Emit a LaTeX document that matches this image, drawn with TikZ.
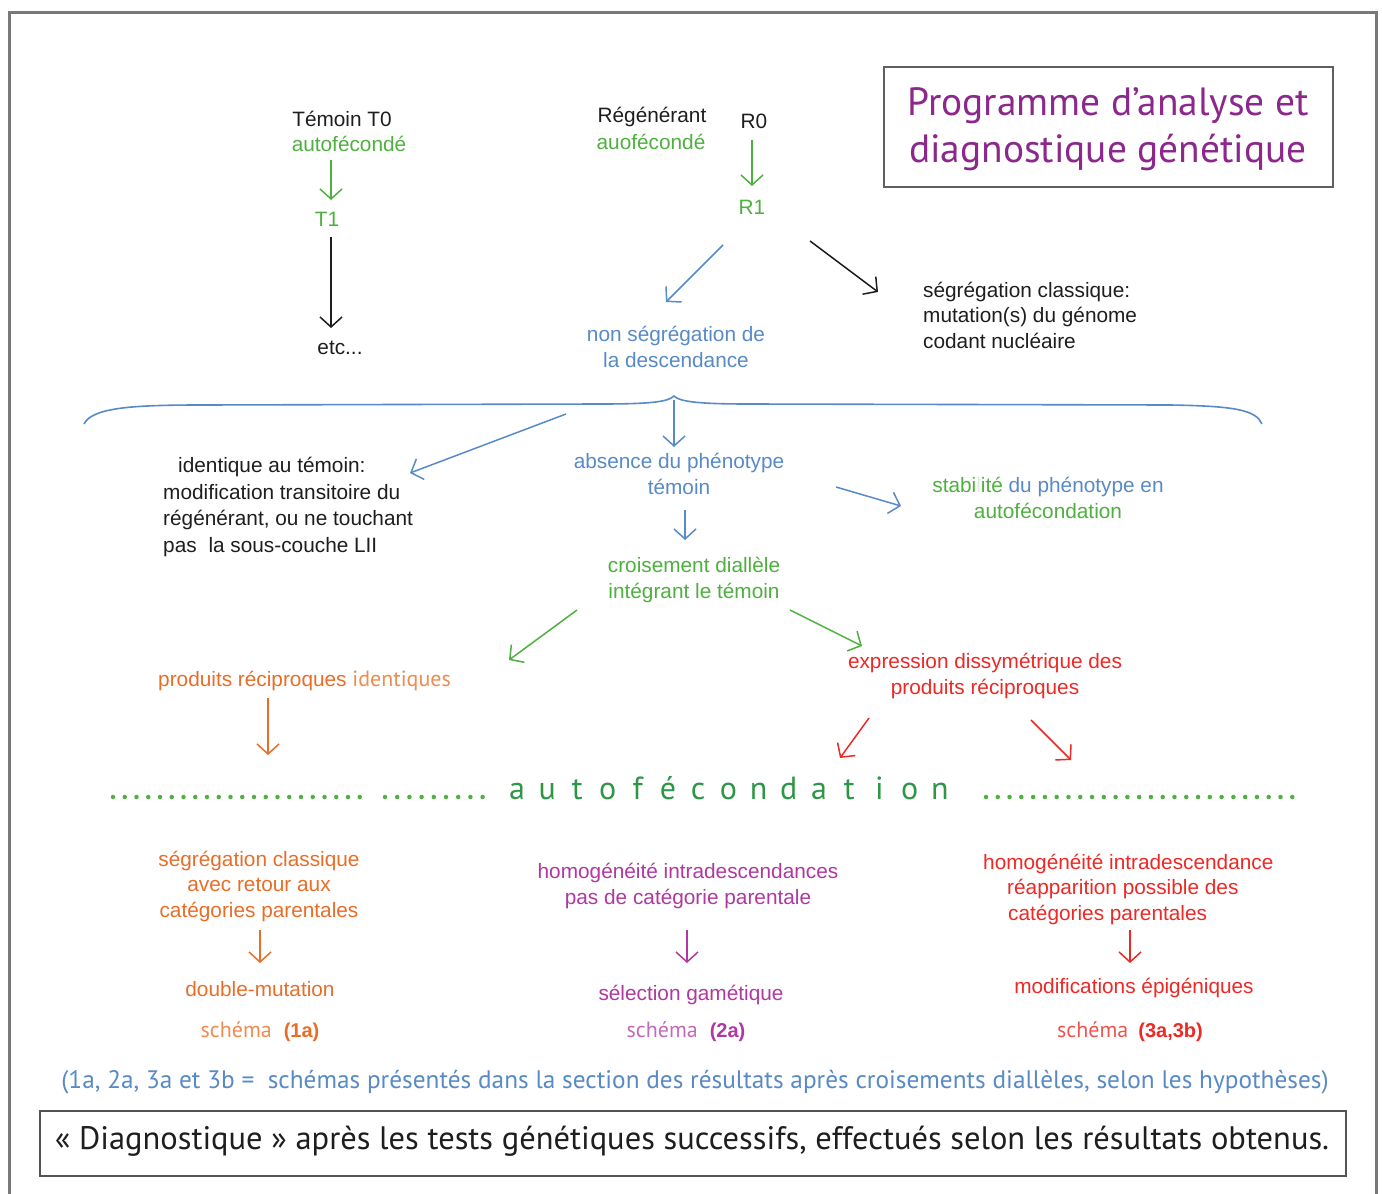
\documentclass[tikz,border=0pt]{standalone}
\usepackage{fontspec}
\setmainfont{Liberation Sans}
\newfontfamily\myr{PT Sans}
\usetikzlibrary{arrows.meta}

\definecolor{cgreen}{RGB}{78,176,62}
\definecolor{cdgreen}{RGB}{46,150,70}
\definecolor{cblue}{RGB}{88,138,200}
\definecolor{corange}{RGB}{232,110,40}
\definecolor{clorange}{RGB}{238,140,80}
\definecolor{cred}{RGB}{238,40,36}
\definecolor{cpurple}{RGB}{176,56,160}
\definecolor{ctitle}{RGB}{140,40,140}
\definecolor{cink}{RGB}{30,30,30}
\definecolor{cframe}{RGB}{120,120,120}

\tikzset{
  lbl/.style={inner sep=0pt, align=center, font=\fontsize{20.8}{25.5}\selectfont, text=cink},
  arr/.style={-{Straight Barb[length=10pt,width=22pt]}, line width=1.5pt},
  myrtxt/.style={inner sep=0pt, align=center},
}

\begin{document}
\begin{tikzpicture}[x=1pt,y=-1pt]
\useasboundingbox (0,0) rectangle (1382,1194);
\fill[white] (0,0) rectangle (1382,1194);

% outer frame, open at the bottom
\draw[cframe, line width=3pt] (9,1196) -- (9,12) -- (1376,12) -- (1376,1196);

% title box
\node[draw=cframe!80!black, line width=2pt, minimum width=449pt, minimum height=120pt,
      inner sep=0pt] (titlebox) at (1108.5,127) {};
\node[myrtxt, text=ctitle, font=\myr\fontsize{39.4}{47}\selectfont] (title) at (1108,129)
  {Programme d’analyse et\\diagnostique génétique};

% control line
\node[lbl] (t0) at (342,119) {Témoin T0};
\node[lbl, text=cgreen] (t0a) at (349,144) {autofécondé};
\node[lbl, text=cgreen] (t1) at (327,219) {T1};
\node[lbl] (etc) at (340,348) {etc...};

% regenerant line
\node[lbl] (reg) at (652,117) {Régénérant};
\node[lbl, text=cgreen] (rega) at (651,142) {auofécondé};
\node[lbl] (r0) at (754,121) {R0};
\node[lbl, text=cgreen] (r1) at (752,207) {R1};

\node[lbl, text=cblue] (nonseg) at (676,347) {non ségrégation de\\ la descendance};
\node[lbl, anchor=west, align=left] (segcl) at (923,315)
  {ségrégation classique:\\mutation(s) du génome\\codant nucléaire};

% brace
\draw[cblue, line width=1.6pt] (84,424) .. controls (92,408) and (130,405) .. (200,405)
  -- (600,404) .. controls (650,404) and (668,402) .. (674,396)
  .. controls (680,402) and (700,404) .. (750,404)
  -- (1170,405) .. controls (1235,406) and (1256,410) .. (1262,424);
\coordinate (brtip) at (674,400);

\node[lbl, align=left, anchor=west, font=\fontsize{20.8}{26.6}\selectfont] (ident) at (163,507)
  {\hspace*{15pt}identique au témoin:\\modification transitoire du\\régénérant, ou ne touchant\\pas\hspace{6pt} la sous-couche LII};
\node[lbl, text=cblue] (absence) at (679,474) {absence du phénotype\\témoin};
\node[lbl, text=cblue] (stab) at (1048,498)
  {{\color{cgreen}stabi{\color{cgreen!20}l}ité} du phénotype en\\{\color{cgreen}autofécondation}};
\node[lbl, text=cgreen] (crois) at (694,580) {croisement diallèle\\intégrant le témoin};

\node[lbl, text=corange, anchor=west] (prodid) at (158,681)
  {produits réciproques\ {\myr\fontsize{22}{25}\selectfont\color{clorange}identiques}};
\node[lbl, text=cred] (expr) at (985,676) {expression dissymétrique des\\produits réciproques};

% autofecondation line
\draw[cgreen, line width=4.5pt, line cap=round, dash pattern=on 0pt off 11.75pt] (113,797) -- (370,797);
\draw[cgreen, line width=4.5pt, line cap=round, dash pattern=on 0pt off 12.2pt] (385,797) -- (484,797);
\draw[cgreen, line width=4.5pt, line cap=round, dash pattern=on 0pt off 11.78pt] (986,797) -- (1304,797);
\foreach \ch [count=\i from 0] in {a,u,t,o,f,é,c,o,n,d,a,t,i,o,n}
  \node[inner sep=0pt, anchor=base, text=cdgreen, font=\myr\fontsize{32}{32}\selectfont]
    (af\i) at (517+30.2*\i,799) {\ch};

% three outcomes
\node[lbl, text=corange] (seg2) at (259,886)
  {ségrégation classique\\avec retour aux\\catégories parentales};
\node[lbl, text=corange] (dm) at (260,989) {double-mutation};
\node[inner sep=0pt, text=corange] (sch1) at (260,1032)
  {{\myr\fontsize{22}{26}\selectfont\color{clorange}schéma}\hspace{12pt}{\fontsize{20}{24}\selectfont\bfseries (1a)}};

\node[lbl, text=cpurple] (homo2) at (688,886)
  {homogénéité intradescendances\\pas de catégorie parentale};
\node[lbl, text=cpurple] (sel) at (691,995) {sélection gamétique};
\node[inner sep=0pt, text=cpurple] (sch2) at (686,1032)
  {{\myr\fontsize{22}{26}\selectfont\color{cpurple!75}schéma}\hspace{12pt}{\fontsize{20}{24}\selectfont\bfseries (2a)}};

\node[lbl, text=cred, align=left, anchor=west] (homo3) at (983,889)
  {homogénéité intradescendance\\\hspace*{24pt}réapparition possible des\\\hspace*{25pt}catégories parentales};
\node[lbl, text=cred] (modif) at (1134,988) {modifications épigéniques};
\node[inner sep=0pt, text=cred] (sch3) at (1130,1032)
  {{\myr\fontsize{22}{26}\selectfont\color{cred!80}schéma}\hspace{10pt}{\fontsize{20}{24}\selectfont\bfseries (3a,3b)}};

% footnote and conclusion box
\node[myrtxt, text=cblue, font=\myr\fontsize{25.3}{28}\selectfont] (foot) at (695,1082)
  {(1a, 2a, 3a et 3b =\ \ schémas présentés dans la section des résultats après croisements diallèles, selon les hypothèses)};
\node[draw=cframe!70!black, line width=2.5pt, minimum width=1306pt, minimum height=65pt,
      inner sep=0pt] (diagbox) at (693,1143.5) {};
\node[myrtxt, text=cink, font=\myr\fontsize{32.5}{36}\selectfont] (diag) at (692,1141)
  {« Diagnostique » après les tests génétiques successifs, effectués selon les résultats obtenus.};

% arrow end points
\coordinate (g1s) at (331,160); \coordinate (g1e) at (331,200);
\coordinate (k1s) at (331,237); \coordinate (k1e) at (331,328);
\coordinate (g2s) at (752,140); \coordinate (g2e) at (752,186);
\coordinate (b1s) at (723,245); \coordinate (b1e) at (666,302);
\coordinate (k2s) at (810,241); \coordinate (k2e) at (878,292);
\coordinate (b2e) at (674,447);
\coordinate (b3s) at (566,414); \coordinate (b3e) at (410,473);
\coordinate (b4s) at (685,510); \coordinate (b4e) at (685,540);
\coordinate (b5s) at (836,487); \coordinate (b5e) at (901,506);
\coordinate (g3s) at (577,610); \coordinate (g3e) at (509,660);
\coordinate (g4s) at (790,610); \coordinate (g4e) at (862,646);
\coordinate (o1s) at (268,698); \coordinate (o1e) at (268,755);
\coordinate (r1s) at (869,718); \coordinate (r1e) at (840,758);
\coordinate (r2s) at (1031,720); \coordinate (r2e) at (1071,760);
\coordinate (o2s) at (260,930); \coordinate (o2e) at (260,963);
\coordinate (p1s) at (687,930); \coordinate (p1e) at (687,963);
\coordinate (r3s) at (1130,930); \coordinate (r3e) at (1130,963);

\draw[arr, cgreen] (g1s) -- (g1e);
\draw[arr, cink] (k1s) -- (k1e);
\draw[arr, cgreen] (g2s) -- (g2e);
\draw[arr, cblue] (b1s) -- (b1e);
\draw[arr, cink] (k2s) -- (k2e);
\draw[arr, cblue] (brtip) -- (b2e);
\draw[arr, cblue] (b3s) -- (b3e);
\draw[arr, cblue] (b4s) -- (b4e);
\draw[arr, cblue] (b5s) -- (b5e);
\draw[arr, cgreen] (g3s) -- (g3e);
\draw[arr, cgreen] (g4s) -- (g4e);
\draw[arr, corange] (o1s) -- (o1e);
\draw[arr, cred] (r1s) -- (r1e);
\draw[arr, cred] (r2s) -- (r2e);
\draw[arr, corange] (o2s) -- (o2e);
\draw[arr, cpurple] (p1s) -- (p1e);
\draw[arr, cred] (r3s) -- (r3e);
\end{tikzpicture}
\end{document}
